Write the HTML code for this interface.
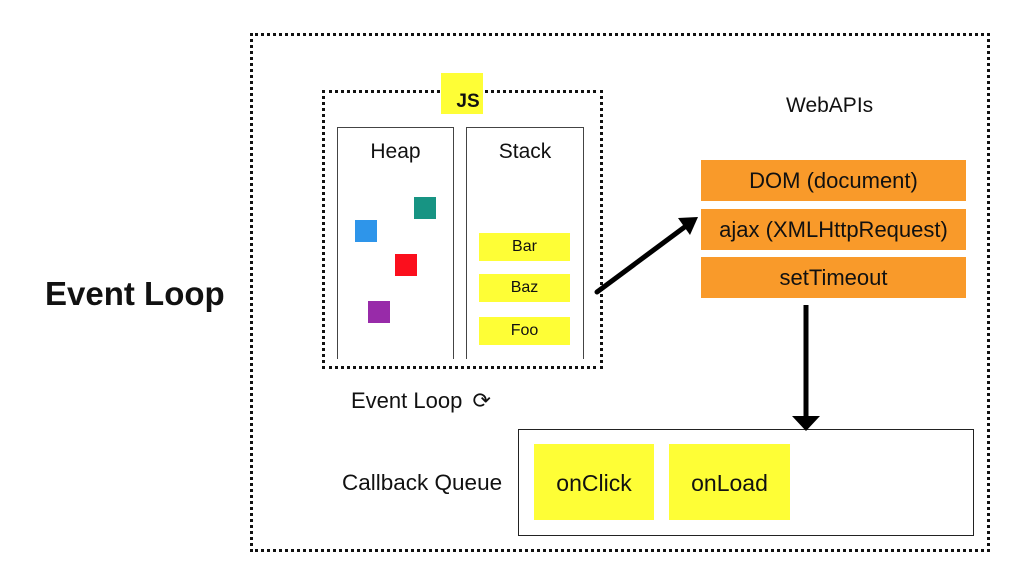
<!DOCTYPE html>
<html><head><style>
body{margin:0;width:1024px;height:584px;background:#fff;position:relative;overflow:hidden;font-family:"Liberation Sans",sans-serif;color:#111}
div{position:absolute;box-sizing:border-box}
.c{display:flex;align-items:center;justify-content:center}
.y{background:#fefe36}
.o{background:#f99a2a;font-size:22px}
</style></head><body>
<div style="left:45px;top:275px;font-size:33px;font-weight:bold;">Event Loop</div>
<div style="left:250px;top:33px;width:740px;height:519px;border:3px dotted #111"></div>
<div style="left:322px;top:90px;width:281px;height:279px;border:3px dotted #111"></div>
<div class="y c" style="left:441px;top:73px;width:42px;height:41px;font-weight:bold;font-size:19px;padding-top:16px;padding-left:12px">JS</div>
<div style="left:337px;top:127px;width:117px;height:232px;border:1px solid #444;border-bottom:none"></div>
<div style="left:466px;top:127px;width:118px;height:232px;border:1px solid #444;border-bottom:none"></div>
<div class="c" style="left:337px;top:140px;width:117px;height:24px;font-size:21px">Heap</div>
<div class="c" style="left:466px;top:140px;width:118px;height:24px;font-size:21px">Stack</div>
<div style="left:414px;top:197px;width:22px;height:22px;background:#179483"></div>
<div style="left:355px;top:220px;width:22px;height:22px;background:#2e95ea"></div>
<div style="left:395px;top:254px;width:22px;height:22px;background:#fb0f1d"></div>
<div style="left:368px;top:301px;width:22px;height:22px;background:#982ba9"></div>
<div class="y c" style="left:479px;top:233px;width:91px;height:28px;font-size:16px">Bar</div>
<div class="y c" style="left:479px;top:274px;width:91px;height:28px;font-size:16px">Baz</div>
<div class="y c" style="left:479px;top:317px;width:91px;height:28px;font-size:16px">Foo</div>
<div style="left:351px;top:388px;font-size:22px">Event Loop <span style="margin-left:4px">&#10227;</span></div>
<div style="left:786px;top:94px;font-size:21px">WebAPIs</div>
<div class="o c" style="left:701px;top:160px;width:265px;height:41px">DOM (document)</div>
<div class="o c" style="left:701px;top:209px;width:265px;height:41px">ajax (XMLHttpRequest)</div>
<div class="o c" style="left:701px;top:257px;width:265px;height:41px">setTimeout</div>
<div style="left:518px;top:429px;width:456px;height:107px;border:1px solid #222"></div>
<div style="left:342px;top:470px;font-size:22.5px">Callback Queue</div>
<div class="y c" style="left:534px;top:444px;width:120px;height:76px;font-size:23px;padding-top:2px">onClick</div>
<div class="y c" style="left:669px;top:444px;width:121px;height:76px;font-size:23px;padding-top:2px">onLoad</div>
<svg style="position:absolute;left:0;top:0" width="1024" height="584">
<line x1="597" y1="292" x2="686" y2="226" stroke="#000" stroke-width="5" stroke-linecap="round"/>
<polygon points="698,217 678,218 690,235" fill="#000"/>
<line x1="806" y1="305" x2="806" y2="418" stroke="#000" stroke-width="5"/>
<polygon points="792,416 820,416 806,431" fill="#000"/>
</svg>
</body></html>
